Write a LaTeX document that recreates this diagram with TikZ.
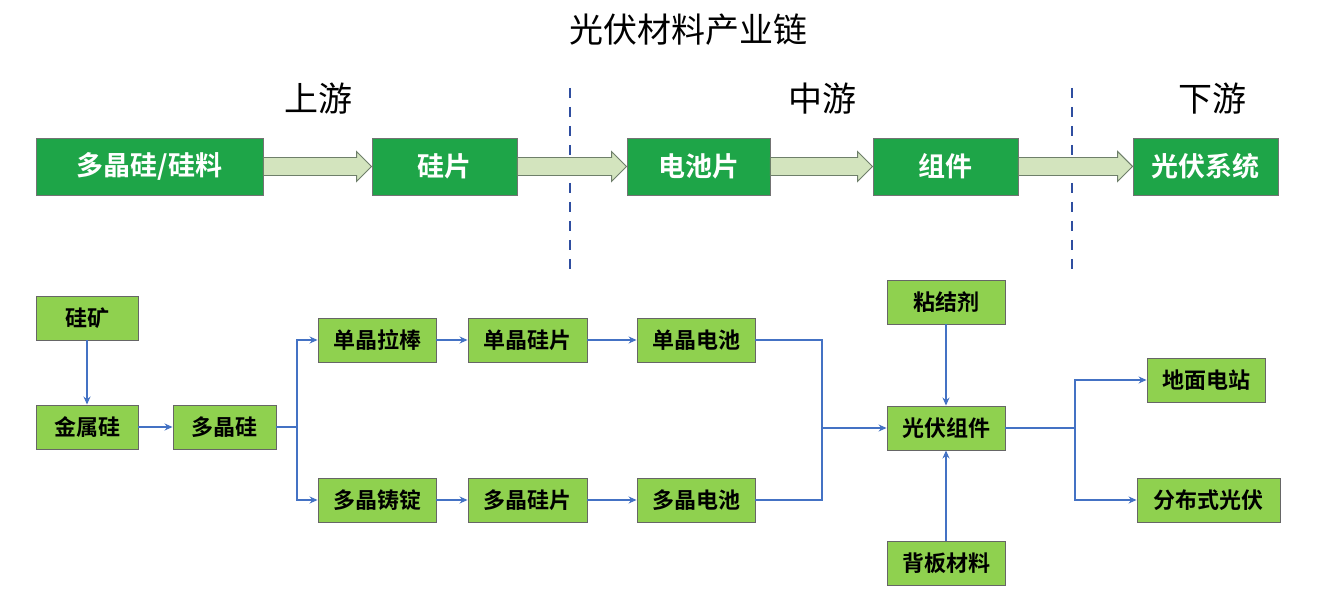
\documentclass[tikz,border=0pt]{standalone}
\usepackage{fontspec}
\setmainfont{Noto Sans CJK SC}
\newfontfamily\cjkb{Noto Sans CJK SC Bold}
\usetikzlibrary{calc,arrows.meta}
\definecolor{dkgreen}{HTML}{1EA548}
\definecolor{ltgreen}{HTML}{8FD14F}
\definecolor{arrfill}{HTML}{D3E4BE}
\definecolor{arrline}{HTML}{6E7F6A}
\definecolor{conn}{HTML}{4472C4}
\definecolor{dash}{HTML}{2F4EA0}
\tikzset{
  topbox/.style={draw=black!55, line width=0.8pt, fill=dkgreen, text=white, font=\cjkb\fontsize{27}{30}\selectfont, inner sep=0pt, minimum height=57pt},
  botbox/.style={draw=black!60, line width=0.9pt, fill=ltgreen, text=black, font=\cjkb\fontsize{22}{25}\selectfont, inner sep=0pt, minimum height=44pt},
  fatarrow/.style={draw=arrline, line width=0.9pt, fill=arrfill},
  link/.style={draw=conn, line width=1.5pt, -{Stealth[length=8pt,width=7pt]}},
  plain/.style={draw=conn, line width=1.5pt},
  divider/.style={draw=dash, line width=1.8pt, dash pattern=on 10pt off 9pt},
  lbl/.style={font=\fontsize{34}{38}\selectfont, text=black}
}
\begin{document}
\begin{tikzpicture}[x=1pt,y=-1pt]
\useasboundingbox[fill=white] (0,0) rectangle (1328,612);
% titles
\node[lbl] (title) at (688,30) {光伏材料产业链};
\node[lbl] (up) at (318,99) {上游};
\node[lbl] (mid) at (822,99) {中游};
\node[lbl] (down) at (1212,99) {下游};
% dividers
\coordinate (d1a) at (570,88); \coordinate (d1b) at (570,272);
\coordinate (d2a) at (1072,88); \coordinate (d2b) at (1072,272);
\draw[divider] (d1a) -- (d1b);
\draw[divider] (d2a) -- (d2b);
% top row
\node[topbox, minimum width=227pt] (t1) at (149.5,166.5) {多晶硅/硅料};
\node[topbox, minimum width=145pt] (t2) at (444.5,166.5) {硅片};
\node[topbox, minimum width=143pt] (t3) at (698.5,166.5) {电池片};
\node[topbox, minimum width=145pt] (t4) at (945.5,166.5) {组件};
\node[topbox, minimum width=145pt] (t5) at (1205.5,166.5) {光伏系统};
\foreach \a/\b in {t1/t2,t2/t3,t3/t4,t4/t5}{
  \path let \p1=(\a.east), \p2=(\b.west) in
    [fatarrow] (\x1,\y1+9pt) -- (\x2-15pt,\y1+9pt) -- (\x2-15pt,\y1+15pt) -- (\x2,\y1) -- (\x2-15pt,\y1-15pt) -- (\x2-15pt,\y1-9pt) -- (\x1,\y1-9pt) -- cycle;
}
% bottom
\node[botbox, minimum width=102pt] (gk) at (87,318) {硅矿};
\node[botbox, minimum width=102pt] (jsg) at (87,427) {金属硅};
\node[botbox, minimum width=103pt] (djg) at (224.5,427) {多晶硅};
\node[botbox, minimum width=118pt] (dlb) at (377,340) {单晶拉棒};
\node[botbox, minimum width=118pt] (dzd) at (377,500) {多晶铸锭};
\node[botbox, minimum width=119pt] (dgp) at (527.5,340) {单晶硅片};
\node[botbox, minimum width=119pt] (ddgp) at (527.5,500) {多晶硅片};
\node[botbox, minimum width=118pt] (ddc) at (696,340) {单晶电池};
\node[botbox, minimum width=118pt] (dddc) at (696,500) {多晶电池};
\node[botbox, minimum width=118pt] (njj) at (946,302) {粘结剂};
\node[botbox, minimum width=118pt] (gfzj) at (946,428) {光伏组件};
\node[botbox, minimum width=118pt] (bbcl) at (946,563) {背板材料};
\node[botbox, minimum width=118pt] (dmdz) at (1206,380) {地面电站};
\node[botbox, minimum width=143pt] (fbs) at (1208.5,500) {分布式光伏};
% connectors
\coordinate (s1) at (297,427);
\coordinate (s2) at (822,428);
\coordinate (s3) at (1075,428);
\draw[link] (gk) -- (jsg);
\draw[link] (jsg) -- (djg);
\draw[plain] (djg.east) -- (s1);
\draw[link] (s1) |- (dlb.west);
\draw[link] (s1) |- (dzd.west);
\draw[link] (dlb) -- (dgp);
\draw[link] (dgp) -- (ddc);
\draw[link] (dzd) -- (ddgp);
\draw[link] (ddgp) -- (dddc);
\draw[plain] (ddc.east) -| (s2);
\draw[plain] (dddc.east) -| (s2);
\draw[link] (s2) -- (gfzj.west);
\draw[link] (njj) -- (gfzj);
\draw[link] (bbcl) -- (gfzj);
\draw[plain] (gfzj.east) -- (s3);
\draw[link] (s3) |- (dmdz.west);
\draw[link] (s3) |- (fbs.west);
\end{tikzpicture}
\end{document}
